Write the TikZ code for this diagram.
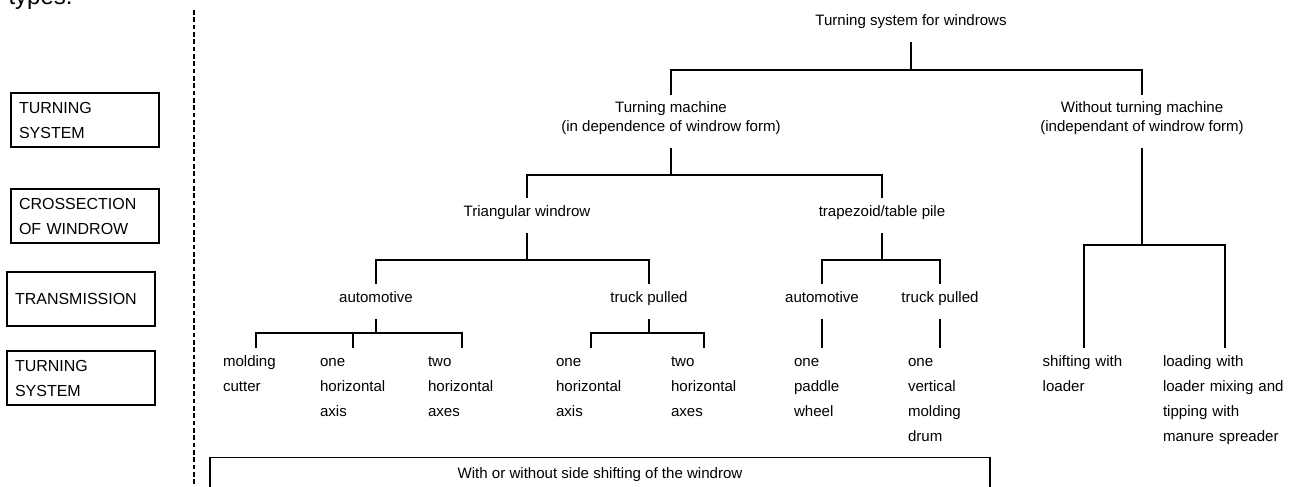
\documentclass[tikz,border=0pt]{standalone}
\usepackage{fontspec}
\setmainfont{Liberation Sans}
\usetikzlibrary{positioning}
\newcommand\trtop{\rule{0pt}{9pt}}
\newcommand\trbot{\rule[-7pt]{0pt}{7pt}}
\tikzset{
  trnode/.style={
    anchor=north, align=center, inner xsep=2pt, inner ysep=4.7pt,
    font=\fontsize{11.3pt}{14.25pt}\selectfont,
    execute at begin node=\trtop, execute at end node=\trbot
  },
  trleaf/.style={
    anchor=north, align=left, text width=#1, inner xsep=0pt, inner ysep=4.7pt,
    font=\fontsize{11.3pt}{18.75pt}\selectfont,
    execute at begin node=\trtop
  },
  trlegend/.style={
    draw, line width=0.8pt, text width=99pt, minimum height=40.5pt,
    inner xsep=6pt, align=left, font=\fontsize{12pt}{18.75pt}\selectfont
  },
  trside/.style={
    draw, line width=0.8pt, anchor=north, minimum width=585pt,
    inner ysep=6.4pt, text depth=30pt, font=\fontsize{11.3pt}{14pt}\selectfont,
    execute at begin node=\trtop
  },
  trhead/.style={anchor=base west, inner sep=0pt, font=\fontsize{18pt}{20pt}\selectfont},
  trdash/.style={line width=1pt, dash pattern=on 3.5pt off 2pt},
}
\begin{document}
\begin{tikzpicture}[x=0.75pt, y=-0.75pt, line width=0.85pt]
  \useasboundingbox (0,0) rectangle (1298,486);
  % legend column
  \node (types) [trhead] at (8,4) {types.};
  \node (lg1) [trlegend] at (85,120) {TURNING\\SYSTEM};
  \node (lg2) [trlegend] at (85,216) {CROSSECTION\\OF WINDROW};
  \node (lg3) [trlegend] at (81,299) {TRANSMISSION};
  \node (lg4) [trlegend] at (81,378) {TURNING\\SYSTEM};
  \draw[trdash] (194,10) -- (194,490);

  % bus levels
  \coordinate (b0) at (0,70);
  \coordinate (b1) at (0,175);
  \coordinate (b2) at (0,260);
  \coordinate (b3) at (0,333);
  \coordinate (b4) at (0,245);

  % tree
  \node (top) [trnode] at (911,7) {Turning system for windrows};
  \node (tm) [trnode] at (671,95) {Turning machine\\(in dependence of windrow form)};
  \node (wtm) [trnode] at (1142,95) {Without turning machine\\(independant of windrow form)};
  \node (tri) [trnode] at (527,198) {Triangular windrow};
  \node (trap) [trnode] at (882,198) {trapezoid/table pile};
  \node (a1) [trnode] at (376,284) {automotive};
  \node (t1) [trnode] at (649,284) {truck pulled};
  \node (a2) [trnode] at (822,284) {automotive};
  \node (t2) [trnode] at (940,284) {truck pulled};

  \node (l1) [trleaf=49.5pt] at (256,348) {molding\\cutter};
  \node (l2) [trleaf=49.5pt] at (353,348) {one\\horizontal\\axis};
  \node (l3) [trleaf=51pt] at (462,348) {two\\horizontal\\axes};
  \node (l4) [trleaf=52.5pt] at (591,348) {one\\horizontal\\axis};
  \node (l5) [trleaf=49.5pt] at (704,348) {two\\horizontal\\axes};
  \node (l6) [trleaf=42pt] at (822,348) {one\\paddle\\wheel};
  \node (l7) [trleaf=48pt] at (940,348) {one\\vertical\\molding\\drum};
  \node (l8) [trleaf=62pt] at (1084,348) {shifting with\\loader};
  \node (l9) [trleaf=93pt] at (1225,348) {loading with\\loader mixing and\\tipping with\\manure spreader};

  \node (side) [trside] at (600,457) {With or without side shifting of the windrow};

  % connectors
  \draw (top.south) -- (top.south |- b0);
  \draw (tm.north) |- (b0 -| wtm.north) -- (wtm.north);
  \draw (tm.south) -- (tm.south |- b1);
  \draw (tri.north) |- (b1 -| trap.north) -- (trap.north);
  \draw (tri.south) -- (tri.south |- b2);
  \draw (a1.north) |- (b2 -| t1.north) -- (t1.north);
  \draw (trap.south) -- (trap.south |- b2);
  \draw (a2.north) |- (b2 -| t2.north) -- (t2.north);
  \draw (a1.south) -- (a1.south |- b3);
  \draw (l1.north) |- (b3 -| l3.north) -- (l3.north);
  \draw (l2.north) -- (l2.north |- b3);
  \draw (t1.south) -- (t1.south |- b3);
  \draw (l4.north) |- (b3 -| l5.north) -- (l5.north);
  \draw (a2.south) -- (l6.north);
  \draw (t2.south) -- (l7.north);
  \draw (wtm.south) -- (wtm.south |- b4);
  \draw (l8.north) |- (b4 -| l9.north) -- (l9.north);
\end{tikzpicture}
\end{document}
